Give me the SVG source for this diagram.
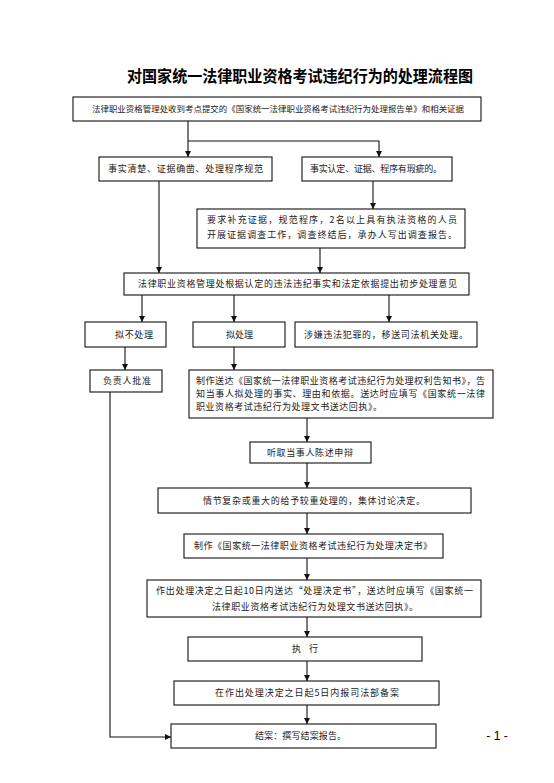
<svg xmlns="http://www.w3.org/2000/svg" width="554" height="783" viewBox="0 0 554 783">
<style>
.box{fill:#fff;stroke:#111;stroke-width:1.1}
.t{font-family:"Noto Sans CJK SC","Liberation Serif",serif;font-size:9px;fill:#222;text-anchor:middle}
.ttl{font-family:"Noto Sans CJK SC","Liberation Sans",sans-serif;font-size:16px;font-weight:bold;fill:#000;text-anchor:middle}
.c{fill:none;stroke:#111;stroke-width:1.1}
.pg{font-family:"Liberation Sans",sans-serif;font-size:12px;fill:#000;text-anchor:middle}
</style>
<defs>
<marker id="ah" markerUnits="userSpaceOnUse" markerWidth="6" markerHeight="6" refX="6" refY="3" orient="auto">
<path d="M0,0 L6,3 L0,6 z" fill="#111"/>
</marker>
</defs>
<rect width="554" height="783" fill="#fff"/>
<text class="ttl" x="300" y="82" textLength="346" lengthAdjust="spacingAndGlyphs">对国家统一法律职业资格考试违纪行为的处理流程图</text>

<g id="connectors">
<path class="c" d="M188,121 V157" marker-end="url(#ah)"/>
<path class="c" d="M188,141 H379 V157" marker-end="url(#ah)"/>
<path class="c" d="M373,181 V209" marker-end="url(#ah)"/>
<path class="c" d="M159,181 V273" marker-end="url(#ah)"/>
<path class="c" d="M320,248 V273" marker-end="url(#ah)"/>
<path class="c" d="M142,295 V322" marker-end="url(#ah)"/>
<path class="c" d="M234,295 V322" marker-end="url(#ah)"/>
<path class="c" d="M389,295 V322" marker-end="url(#ah)"/>
<path class="c" d="M125,347 V370" marker-end="url(#ah)"/>
<path class="c" d="M234,347 V370" marker-end="url(#ah)"/>
<path class="c" d="M110,392 V737 H171" marker-end="url(#ah)"/>
<path class="c" d="M307,418 V442" marker-end="url(#ah)"/>
<path class="c" d="M307,463 V488" marker-end="url(#ah)"/>
<path class="c" d="M307,513 V534" marker-end="url(#ah)"/>
<path class="c" d="M307,558 V580" marker-end="url(#ah)"/>
<path class="c" d="M307,617 V637" marker-end="url(#ah)"/>
<path class="c" d="M307,661 V681" marker-end="url(#ah)"/>
<path class="c" d="M307,705 V724" marker-end="url(#ah)"/>
</g>

<g id="n1"><rect class="box" x="73" y="97" width="408" height="24"/>
<text class="t" x="278" y="112" textLength="372" lengthAdjust="spacingAndGlyphs" style="font-size:8.5px">法律职业资格管理处收到考点提交的《国家统一法律职业资格考试违纪行为处理报告单》和相关证据</text></g>

<g id="n2a"><rect class="box" x="99" y="157" width="173" height="24"/>
<text class="t" x="185.5" y="172" textLength="155" lengthAdjust="spacing">事实清楚、证据确凿、处理程序规范</text></g>

<g id="n2b"><rect class="box" x="302" y="157" width="150" height="24"/>
<text class="t" x="376" y="172" textLength="132" lengthAdjust="spacing">事实认定、证据、程序有瑕疵的。</text></g>

<g id="n3"><rect class="box" x="197" y="209" width="268" height="39"/>
<text class="t" x="332" y="223" textLength="250" lengthAdjust="spacing">要求补充证据，规范程序，2名以上具有执法资格的人员</text>
<text class="t" x="332" y="238" textLength="250" lengthAdjust="spacing">开展证据调查工作，调查终结后，承办人写出调查报告。</text></g>

<g id="n4"><rect class="box" x="124" y="273" width="345" height="22"/>
<text class="t" x="297.5" y="287" textLength="319" lengthAdjust="spacing">法律职业资格管理处根据认定的违法违纪事实和法定依据提出初步处理意见</text></g>

<g id="n5a"><rect class="box" x="85" y="322" width="81" height="25"/>
<text class="t" x="134" y="337.5" textLength="38" lengthAdjust="spacing">拟不处理</text></g>

<g id="n5b"><rect class="box" x="193" y="322" width="92" height="25"/>
<text class="t" x="239.5" y="337.5" textLength="27" lengthAdjust="spacing">拟处理</text></g>

<g id="n5c"><rect class="box" x="295" y="322" width="182" height="25"/>
<text class="t" x="386" y="337.5" textLength="164" lengthAdjust="spacing">涉嫌违法犯罪的，移送司法机关处理。</text></g>

<g id="n6a"><rect class="box" x="90" y="370" width="72" height="22"/>
<text class="t" x="127" y="384" textLength="48" lengthAdjust="spacing">负责人批准</text></g>

<g id="n6b"><rect class="box" x="189" y="370" width="304" height="48"/>
<text class="t" x="340.5" y="384" textLength="289" lengthAdjust="spacing">制作送达《国家统一法律职业资格考试违纪行为处理权利告知书》，告</text>
<text class="t" x="340.5" y="397" textLength="289" lengthAdjust="spacing">知当事人拟处理的事实、理由和依据。送达时应填写《国家统一法律</text>
<text class="t" x="289" y="410" textLength="186" lengthAdjust="spacing">职业资格考试违纪行为处理文书送达回执》。</text></g>

<g id="n7"><rect class="box" x="250" y="442" width="121" height="21"/>
<text class="t" x="310" y="456" textLength="86" lengthAdjust="spacing">听取当事人陈述申辩</text></g>

<g id="n8"><rect class="box" x="158" y="488" width="313" height="25"/>
<text class="t" x="314" y="503.5" textLength="222" lengthAdjust="spacing">情节复杂或重大的给予较重处理的，集体讨论决定。</text></g>

<g id="n9"><rect class="box" x="184" y="534" width="259" height="24"/>
<text class="t" x="313" y="549" textLength="238" lengthAdjust="spacing">制作《国家统一法律职业资格考试违纪行为处理决定书》</text></g>

<g id="n10"><rect class="box" x="147" y="580" width="334" height="37"/>
<text class="t" x="314.5" y="594" textLength="317" lengthAdjust="spacing">作出处理决定之日起10日内送达“处理决定书”，送达时应填写《国家统一</text>
<text class="t" x="315" y="610" textLength="206" lengthAdjust="spacing">法律职业资格考试违纪行为处理文书送达回执》。</text></g>

<g id="n11"><rect class="box" x="188" y="637" width="234" height="24"/>
<text class="t" x="305" y="652" textLength="26" lengthAdjust="spacing">执 行</text></g>

<g id="n12"><rect class="box" x="174" y="681" width="265" height="24"/>
<text class="t" x="307" y="696" textLength="184" lengthAdjust="spacing">在作出处理决定之日起5日内报司法部备案</text></g>

<g id="n13"><rect class="box" x="171" y="724" width="265" height="24"/>
<text class="t" x="300.5" y="739" textLength="91" lengthAdjust="spacing">结案：撰写结案报告。</text></g>

<text class="pg" x="497" y="740">- 1 -</text>
</svg>
